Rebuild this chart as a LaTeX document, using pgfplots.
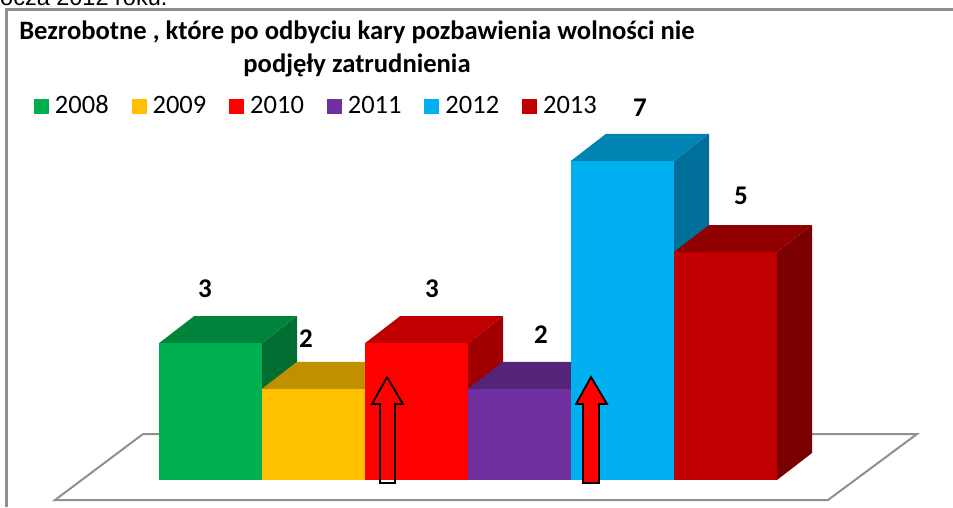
\documentclass[border=0pt]{standalone}
\usepackage{fontspec}
\setmainfont{Carlito}
\newfontfamily\arialf{Liberation Sans}
\usepackage{pgfplots}
\pgfplotsset{compat=1.18}
\definecolor{c1}{HTML}{00B050}\definecolor{c1t}{HTML}{00843C}\definecolor{c1s}{HTML}{006E32}
\definecolor{c2}{HTML}{FFC000}\definecolor{c2t}{HTML}{C09000}\definecolor{c2s}{HTML}{A07800}
\definecolor{c3}{HTML}{FF0000}\definecolor{c3t}{HTML}{C00000}\definecolor{c3s}{HTML}{A00000}
\definecolor{c4}{HTML}{7030A0}\definecolor{c4t}{HTML}{542478}\definecolor{c4s}{HTML}{461E64}
\definecolor{c5}{HTML}{00B0F0}\definecolor{c5t}{HTML}{0084B4}\definecolor{c5s}{HTML}{00709A}
\definecolor{c6}{HTML}{C00000}\definecolor{c6t}{HTML}{900000}\definecolor{c6s}{HTML}{7A0000}
\definecolor{gr}{HTML}{8F8F8F}
\tikzset{lbl/.style={font=\fontsize{27}{27}\selectfont\bfseries,inner sep=0pt}}
\pgfplotsset{
  canvas/.style={width=953pt,height=507pt,scale only axis,axis lines=none,clip=false,
    xtick=\empty,ytick=\empty,at={(0pt,0pt)},anchor=south west},
  px/.style={canvas,xmin=0,xmax=953,ymin=0,ymax=507,y dir=reverse},
  face/.style={draw=none,fill=#1,forget plot},
}
\begin{document}
\begin{tikzpicture}[x=1pt,y=1pt]
\clip (0,0) rectangle (953,507);
% page furniture and floor, in pixels of the reference
\begin{axis}[px]
\addplot[gr,line width=2.5pt,forget plot] coordinates {(6.5,507) (6.5,9.5) (953,9.5)};
\addplot[gr,line width=2pt,forget plot] coordinates {(143,434) (917,434) (828,500) (55,500) (143,434)};
\node[anchor=base west,font=\arialf\fontsize{23.5}{23.5}\selectfont,inner sep=0pt] at (axis cs:0,5) {ocza 2012 roku.};
\end{axis}
% the bars
\begin{axis}[canvas,xmin=-2.0437,xmax=7.2087,ymin=-0.5921,ymax=10.5263,
  legend image code/.code={\fill[#1] (0pt,-7pt) rectangle (15pt,8pt);},
  legend columns=6,
  legend style={at={(34/953,1-107/507)},anchor=west,draw=none,fill=none,inner sep=0pt,outer sep=0pt,
    font=\fontsize{26.5}{26.5}\selectfont,
    nodes={text height=16pt,text depth=3pt,inner xsep=0pt,inner ysep=0pt,anchor=west},
    /tikz/every odd column/.append style={column sep=6pt},
    /tikz/every even column/.append style={column sep=22.9pt}},
  bar width=1,bar shift=0pt]
% 2008
\addplot[face=c1s] coordinates {(0.5,0) (0.84,0.592) (0.84,3.592) (0.5,3)} -- cycle;
\addplot[face=c1t] coordinates {(-0.5,3) (0.5,3) (0.84,3.592) (-0.16,3.592)} -- cycle;
\addplot[ybar,draw=none,fill=c1] coordinates {(0,3)};
% 2009
\addplot[face=c2s] coordinates {(1.5,0) (1.84,0.592) (1.84,2.592) (1.5,2)} -- cycle;
\addplot[face=c2t] coordinates {(0.5,2) (1.5,2) (1.84,2.592) (0.84,2.592)} -- cycle;
\addplot[ybar,draw=none,fill=c2] coordinates {(1,2)};
% 2010
\addplot[face=c3s] coordinates {(2.5,0) (2.84,0.592) (2.84,3.592) (2.5,3)} -- cycle;
\addplot[face=c3t] coordinates {(1.5,3) (2.5,3) (2.84,3.592) (1.84,3.592)} -- cycle;
\addplot[ybar,draw=none,fill=c3] coordinates {(2,3)};
% 2011
\addplot[face=c4s] coordinates {(3.5,0) (3.84,0.592) (3.84,2.592) (3.5,2)} -- cycle;
\addplot[face=c4t] coordinates {(2.5,2) (3.5,2) (3.84,2.592) (2.84,2.592)} -- cycle;
\addplot[ybar,draw=none,fill=c4] coordinates {(3,2)};
% 2012
\addplot[face=c5s] coordinates {(4.5,0) (4.84,0.592) (4.84,7.592) (4.5,7)} -- cycle;
\addplot[face=c5t] coordinates {(3.5,7) (4.5,7) (4.84,7.592) (3.84,7.592)} -- cycle;
\addplot[ybar,draw=none,fill=c5] coordinates {(4,7)};
% 2013
\addplot[face=c6s] coordinates {(5.5,0) (5.84,0.592) (5.84,5.592) (5.5,5)} -- cycle;
\addplot[face=c6t] coordinates {(4.5,5) (5.5,5) (5.84,5.592) (4.84,5.592)} -- cycle;
\addplot[ybar,draw=none,fill=c6] coordinates {(5,5)};
\legend{2008,2009,2010,2011,2012,2013}
\end{axis}
% arrows and all the texts, in pixels of the reference
\begin{axis}[px]
\addplot[black,line width=1.8pt,line join=miter,forget plot] coordinates {(387,377) (403,404) (395,404) (395,483) (380,483) (380,404) (372,404) (387,377)};
\addplot[black,fill=red,line width=1.8pt,line join=miter,forget plot] coordinates {(591,377) (607,404) (599,404) (599,483) (583,483) (583,404) (576,404) (591,377)} -- cycle;
\node[font=\fontsize{26.6}{26.6}\selectfont\bfseries,anchor=base,inner sep=0pt] at (axis cs:357,39) {Bezrobotne , które po odbyciu kary pozbawienia wolności nie};
\node[font=\fontsize{26.6}{26.6}\selectfont\bfseries,anchor=base,inner sep=0pt] at (axis cs:357,72) {podjęły zatrudnienia};
\node[lbl] at (axis cs:205,289) {3};
\node[lbl] at (axis cs:306,339) {2};
\node[lbl] at (axis cs:432,289) {3};
\node[lbl] at (axis cs:541,335) {2};
\node[lbl] at (axis cs:640,108) {7};
\node[lbl] at (axis cs:741,196) {5};
\end{axis}
\end{tikzpicture}
\end{document}
